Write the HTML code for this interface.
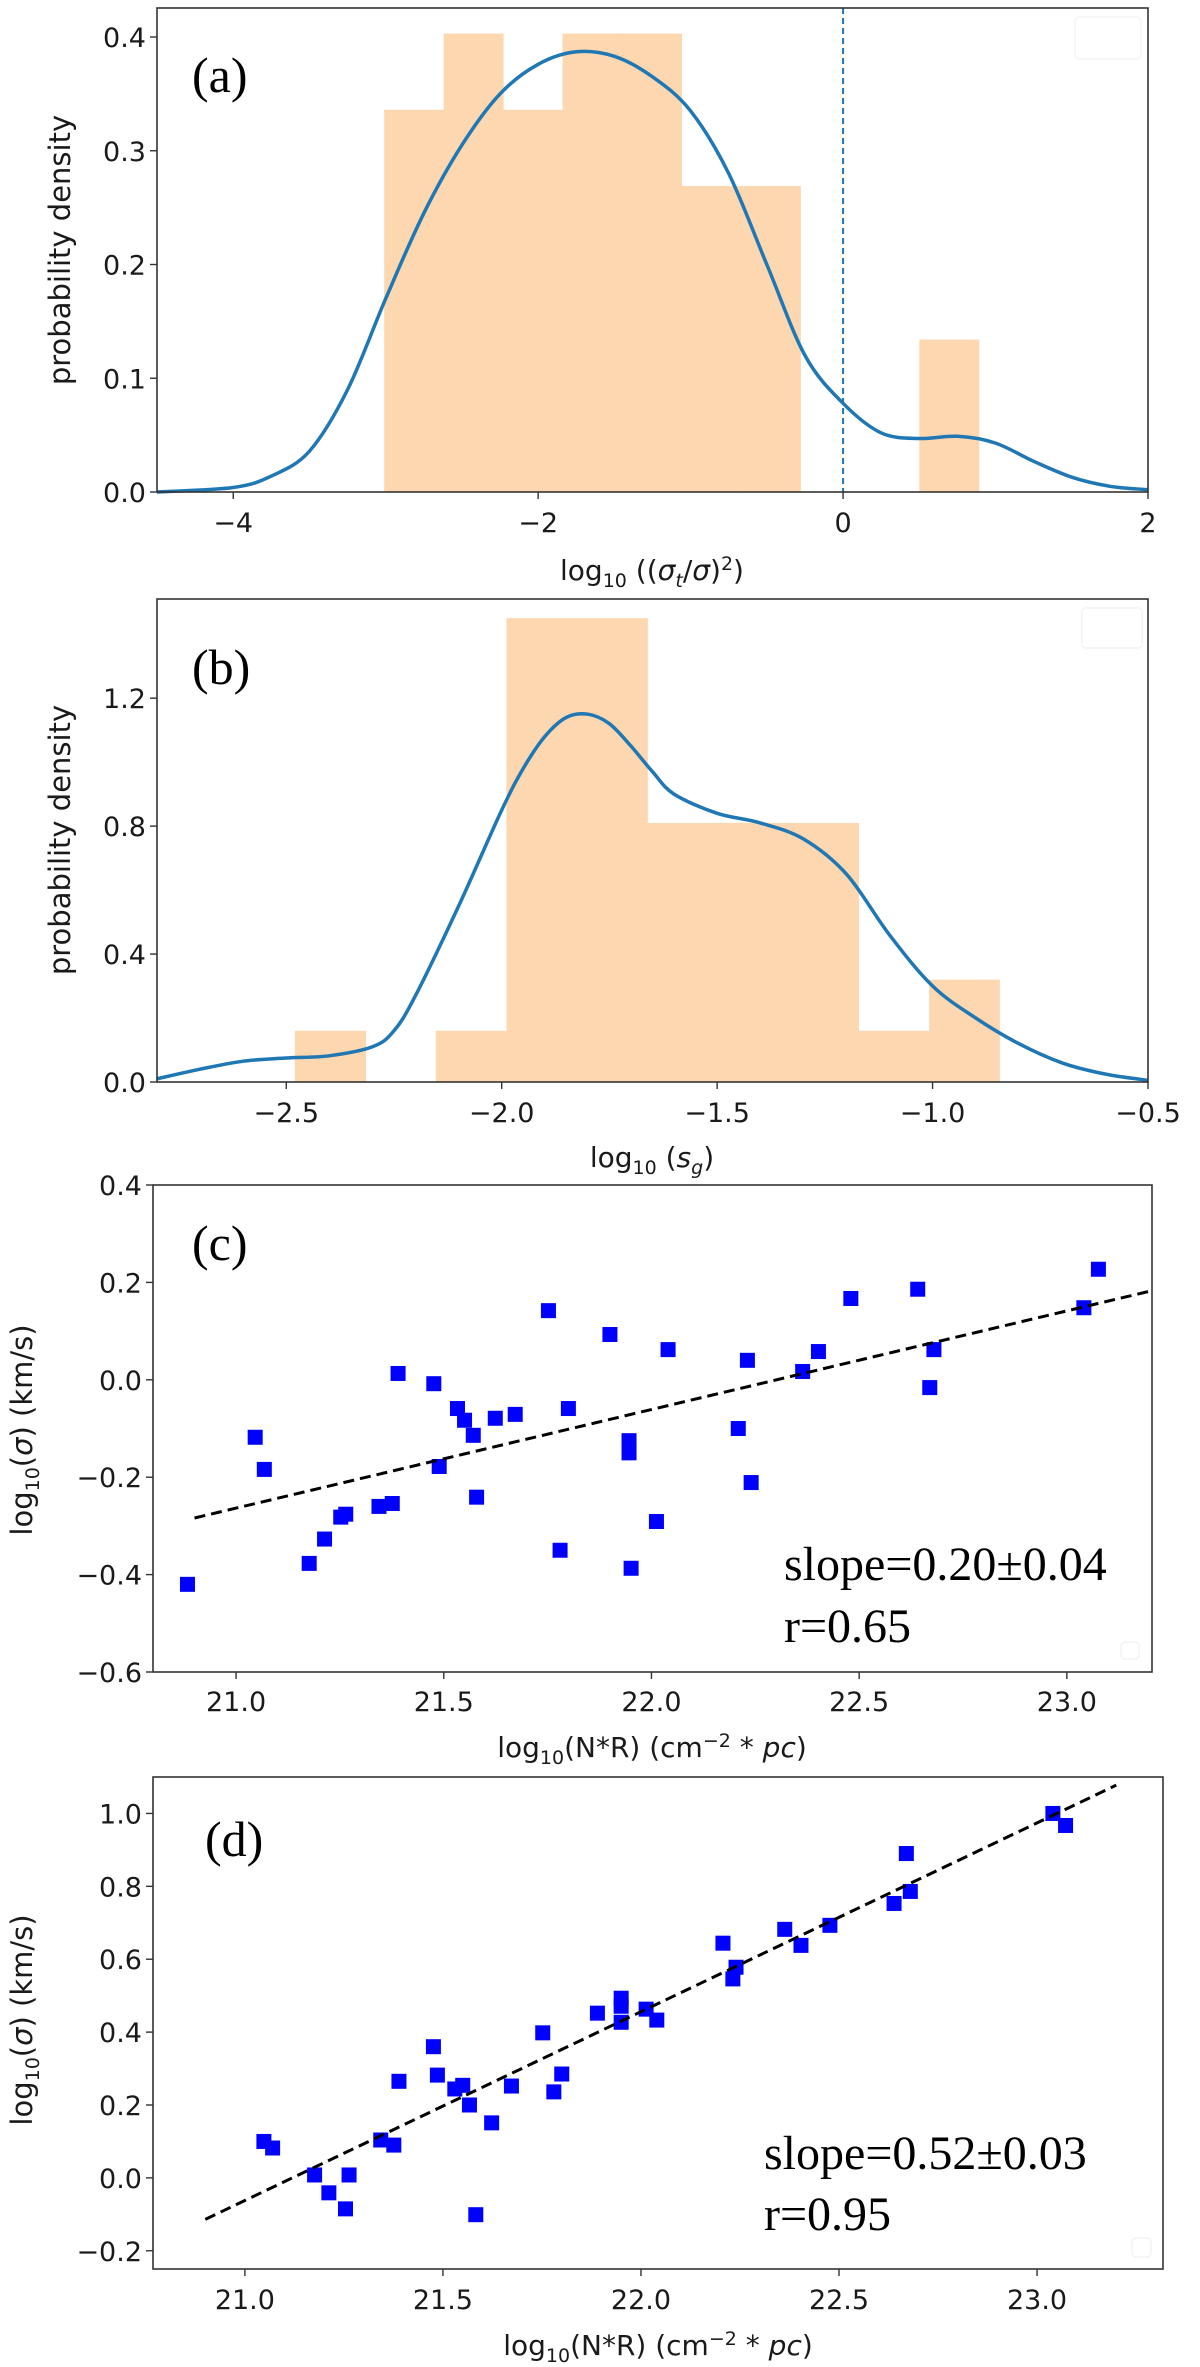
<!DOCTYPE html>
<html><head><meta charset="utf-8"><style>
html,body{margin:0;padding:0;background:#fff;}
svg{display:block;}
text{font-family:"DejaVu Sans","Liberation Sans",sans-serif;fill:#1a1a1a;}
.serif{font-family:"Liberation Serif","DejaVu Serif",serif;fill:#000;}
</style></head><body>
<svg id="fig" xmlns="http://www.w3.org/2000/svg" width="1200" height="2367" viewBox="0 0 1200 2367"></svg>
<script>
// ---- Panel (a) data ----
const aBinEdges = [-3.01,-2.62,-2.23,-1.84,-1.45,-1.06,-0.67,-0.28,0.11,0.50,0.89];
const aBinHeights = [0.336,0.403,0.336,0.403,0.403,0.269,0.269,0,0,0.134];
const aKdeX = [-4.5,-4,-3.75,-3.5,-3.25,-3,-2.75,-2.5,-2.25,-2,-1.75,-1.5,-1.25,-1,-0.75,-0.5,-0.25,0,0.25,0.5,0.75,1,1.25,1.5,1.75,2];
const aKdeY = [0,0.004,0.014,0.036,0.09,0.17,0.245,0.305,0.35,0.376,0.387,0.383,0.365,0.335,0.28,0.2,0.12,0.078,0.052,0.047,0.049,0.043,0.027,0.013,0.005,0.002];
const aXTicks = [-4,-2,0,2];
const aXTickLabels = ["\u22124","\u22122","0","2"];
const aYTicks = [0,0.1,0.2,0.3,0.4];
const aYTickLabels = ["0.0","0.1","0.2","0.3","0.4"];
// ---- Panel (b) data ----
const bBinEdges = [-2.48,-2.316,-2.153,-1.989,-1.826,-1.662,-1.499,-1.335,-1.172,-1.008,-0.845];
const bBinHeights = [0.16,0,0.16,1.45,1.45,0.81,0.81,0.81,0.16,0.32];
const bKdeX = [-2.8,-2.7,-2.6,-2.5,-2.4,-2.3,-2.25,-2.2,-2.1,-2.0,-1.95,-1.9,-1.85,-1.8,-1.75,-1.7,-1.65,-1.6,-1.5,-1.4,-1.3,-1.2,-1.1,-1.0,-0.9,-0.8,-0.7,-0.6,-0.5];
const bKdeY = [0.01,0.04,0.065,0.075,0.082,0.11,0.16,0.27,0.55,0.85,0.98,1.08,1.14,1.15,1.12,1.05,0.97,0.9,0.84,0.81,0.76,0.65,0.46,0.3,0.2,0.12,0.06,0.025,0.005];
const bXTicks = [-2.5,-2.0,-1.5,-1.0,-0.5];
const bXTickLabels = ["\u22122.5","\u22122.0","\u22121.5","\u22121.0","\u22120.5"];
const bYTicks = [0,0.4,0.8,1.2];
const bYTickLabels = ["0.0","0.4","0.8","1.2"];
// ---- Panel (c) data ----
const cX = [20.883,21.046,21.068,21.176,21.213,21.252,21.264,21.344,21.376,21.39,21.476,21.489,21.533,21.55,21.571,21.579,21.624,21.672,21.752,21.78,21.80,21.90,21.946,21.946,21.951,22.012,22.04,22.209,22.231,22.24,22.364,22.402,22.48,22.641,22.67,22.68,23.041,23.076];
const cY = [-0.42,-0.118,-0.184,-0.377,-0.327,-0.282,-0.276,-0.26,-0.254,0.013,-0.008,-0.178,-0.059,-0.083,-0.114,-0.241,-0.079,-0.071,0.142,-0.35,-0.059,0.093,-0.125,-0.15,-0.387,-0.291,0.062,-0.1,0.04,-0.211,0.017,0.058,0.167,0.186,-0.016,0.062,0.148,0.227];
const cFit = [0.2025,-4.516];      // slope, intercept
const cFitRange = [20.9,23.2];
const cXTicks = [21.0,21.5,22.0,22.5,23.0];
const cXTickLabels = ["21.0","21.5","22.0","22.5","23.0"];
const cYTicks = [-0.6,-0.4,-0.2,0.0,0.2,0.4];
const cYTickLabels = ["\u22120.6","\u22120.4","\u22120.2","0.0","0.2","0.4"];
// ---- Panel (d) data ----
const dX = [21.048,21.07,21.176,21.212,21.254,21.263,21.343,21.376,21.389,21.476,21.486,21.53,21.55,21.567,21.583,21.623,21.673,21.752,21.78,21.80,21.89,21.95,21.95,21.95,22.013,22.04,22.207,22.24,22.232,22.363,22.404,22.477,22.639,22.68,22.67,23.04,23.072];
const dY = [0.10,0.082,0.008,-0.041,-0.085,0.008,0.104,0.09,0.265,0.36,0.282,0.244,0.254,0.2,-0.101,0.151,0.252,0.398,0.236,0.285,0.452,0.493,0.471,0.427,0.463,0.433,0.644,0.578,0.546,0.682,0.638,0.693,0.753,0.786,0.89,1.0,0.967];
const dFit = [0.518,-10.94];
const dFitRange = [20.9,23.2];
const dXTicks = [21.0,21.5,22.0,22.5,23.0];
const dXTickLabels = ["21.0","21.5","22.0","22.5","23.0"];
const dYTicks = [-0.2,0.0,0.2,0.4,0.6,0.8,1.0];
const dYTickLabels = ["\u22120.2","0.0","0.2","0.4","0.6","0.8","1.0"];

const NS = "http://www.w3.org/2000/svg";
const svg = document.getElementById('fig');
function el(tag, attrs, parent){
  const e = document.createElementNS(NS, tag);
  for (const k in attrs) e.setAttribute(k, attrs[k]);
  (parent||svg).appendChild(e);
  return e;
}
function makeScale(d0,d1,p0,p1){ return v => p0 + (v-d0)/(d1-d0)*(p1-p0); }
const TF = 27;
function axesFrame(g, L, T, R, B, sx, sy, xt, xtl, yt, ytl, xTickY){
  const frame = el('rect',{x:L,y:T,width:R-L,height:B-T,fill:'none',stroke:'#333',"stroke-width":1.6},g);
  
  
  xt.forEach((v,i)=>{
    const x = sx(v);
    const t = el('line',{x1:x,y1:B,x2:x,y2:B+7,stroke:'#333',"stroke-width":1.4},g);
    
    
    const lb = el('text',{x:x,y:xTickY,"font-size":TF,"text-anchor":"middle"},g);
    lb.textContent = xtl[i];
    
    
  });
  yt.forEach((v,i)=>{
    const y = sy(v);
    const t = el('line',{x1:L-7,y1:y,x2:L,y2:y,stroke:'#333',"stroke-width":1.4},g);
    
    
    const lb = el('text',{x:L-11,y:y+10,"font-size":TF,"text-anchor":"end"},g);
    lb.textContent = ytl[i];
    
    
  });
}
function histPanel(name, L,T,R,B, xd, yd, edges, heights, kx, ky){
  const g = el('g',{});
  
  
  const sx = makeScale(xd[0],xd[1],L,R), sy = makeScale(yd[0],yd[1],B,T);
  heights.forEach((h,i)=>{
    if (h<=0) return;
    const r = el('rect',{x:sx(edges[i]),y:sy(h),width:sx(edges[i+1])-sx(edges[i])+0.5,height:sy(0)-sy(h),fill:'#fdd7b0'},g);
    
    
  });
  const pts = kx.map((x,i)=>[sx(x),sy(ky[i])]);
  let d = 'M'+pts[0][0]+','+pts[0][1];
  for (let i=0;i<pts.length-1;i++){
    const p0=pts[Math.max(0,i-1)],p1=pts[i],p2=pts[i+1],p3=pts[Math.min(pts.length-1,i+2)];
    d += ' C'+(p1[0]+(p2[0]-p0[0])/6).toFixed(1)+','+(p1[1]+(p2[1]-p0[1])/6).toFixed(1)+' '+
         (p2[0]-(p3[0]-p1[0])/6).toFixed(1)+','+(p2[1]-(p3[1]-p1[1])/6).toFixed(1)+' '+p2[0].toFixed(1)+','+p2[1].toFixed(1);
  }
  const path = el('path',{d:d,fill:'none',stroke:'#1f77b4',"stroke-width":3.5},g);
  
  
  return {g,sx,sy};
}
function scatterPanel(name, L,T,R,B, xd, yd, xs, ys, fit, fitRange){
  const g = el('g',{});
  
  
  const sx = makeScale(xd[0],xd[1],L,R), sy = makeScale(yd[0],yd[1],B,T);
  xs.forEach((x,i)=>{
    const r = el('rect',{x:sx(x)-7.5,y:sy(ys[i])-7.5,width:15,height:15,fill:'#0000ff'},g);
    
    
  });
  const ln = el('line',{x1:sx(fitRange[0]),y1:sy(fit[0]*fitRange[0]+fit[1]),x2:sx(fitRange[1]),y2:sy(fit[0]*fitRange[1]+fit[1]),stroke:'#000',"stroke-width":3,"stroke-dasharray":"11,6"},g);
  
  
  return {g,sx,sy};
}
function txt(g, name, x, y, size, cls, anchor, html, rot){
  const t = el('text',{x:x,y:y,"font-size":size,"text-anchor":anchor||'start'},g);
  if (cls) t.setAttribute('class',cls);
  if (rot) t.setAttribute('transform',rot);
  t.innerHTML = html;
  
  
  return t;
}
function legendBox(g,x,y,w,h,name){
  const r = el('rect',{x:x,y:y,width:w,height:h,rx:4,fill:'none',stroke:'#f0f0f0',"stroke-width":1.2},g);
  
  
}

// Panel a
const A = histPanel('panel-a',157,8,1148,492,[-4.5,2],[0,0.4255],aBinEdges,aBinHeights,aKdeX,aKdeY);
const vz = el('line',{x1:A.sx(0),y1:8,x2:A.sx(0),y2:492,stroke:'#1f77b4',"stroke-width":2,"stroke-dasharray":"6,4"},A.g);


legendBox(A.g,1075,17,66,42,'legend-box');
axesFrame(A.g,157,8,1148,492,A.sx,A.sy,aXTicks,aXTickLabels,aYTicks,aYTickLabels,532);
txt(A.g,'panel-label-a',192,92,50,'serif','start','(a)');
txt(A.g,'x-axis-title',652,580,28,null,'middle','log<tspan font-size="19" dy="7">10</tspan><tspan dy="-7"> ((</tspan><tspan font-style="italic">σ</tspan><tspan font-style="italic" font-size="19" dy="7">t</tspan><tspan dy="-7">/</tspan><tspan font-style="italic">σ</tspan>)<tspan font-size="19" dy="-10">2</tspan><tspan dy="10">)</tspan>');
txt(A.g,'y-axis-title',0,0,29,null,'middle','probability density','translate(70,250) rotate(-90)');

// Panel b
const Bp = histPanel('panel-b',157,599,1148,1082,[-2.8,-0.5],[0,1.51],bBinEdges,bBinHeights,bKdeX,bKdeY);
legendBox(Bp.g,1082,608,60,40,'legend-box');
axesFrame(Bp.g,157,599,1148,1082,Bp.sx,Bp.sy,bXTicks,bXTickLabels,bYTicks,bYTickLabels,1122);
txt(Bp.g,'panel-label-b',192,684,50,'serif','start','(b)');
txt(Bp.g,'x-axis-title',652,1167,28,null,'middle','log<tspan font-size="19" dy="7">10</tspan><tspan dy="-7"> (</tspan><tspan font-style="italic">s</tspan><tspan font-style="italic" font-size="19" dy="7">g</tspan><tspan dy="-7">)</tspan>');
txt(Bp.g,'y-axis-title',0,0,29,null,'middle','probability density','translate(70,840) rotate(-90)');

// Panel c
const C = scatterPanel('panel-c',153,1185,1152,1672,[20.8,23.205],[-0.6,0.4],cX,cY,cFit,cFitRange);
legendBox(C.g,1121,1642,18,17,'legend-box');
axesFrame(C.g,153,1185,1152,1672,C.sx,C.sy,cXTicks,cXTickLabels,cYTicks,cYTickLabels,1711);
txt(C.g,'panel-label-c',192,1260,50,'serif','start','(c)');
txt(C.g,'slope-annotation',784,1580,48,'serif','start','slope=0.20±0.04');
txt(C.g,'r-annotation',784,1642,48,'serif','start','r=0.65');
txt(C.g,'x-axis-title',652,1757,28,null,'middle','log<tspan font-size="19" dy="7">10</tspan><tspan dy="-7">(N*R) (cm</tspan><tspan font-size="19" dy="-10">\u22122</tspan><tspan dy="10"> * </tspan><tspan font-style="italic">pc</tspan>)');
txt(C.g,'y-axis-title',0,0,29,null,'middle','log<tspan font-size="19" dy="7">10</tspan><tspan dy="-7">(</tspan><tspan font-style="italic">σ</tspan>) (km/s)','translate(32,1430) rotate(-90)');

// Panel d
const D = scatterPanel('panel-d',153,1777,1163,2269,[20.768,23.318],[-0.25,1.1],dX,dY,dFit,dFitRange);
legendBox(D.g,1132,2238,19,19,'legend-box');
axesFrame(D.g,153,1777,1163,2269,D.sx,D.sy,dXTicks,dXTickLabels,dYTicks,dYTickLabels,2309);
txt(D.g,'panel-label-d',205,1856,50,'serif','start','(d)');
txt(D.g,'slope-annotation',764,2169,48,'serif','start','slope=0.52±0.03');
txt(D.g,'r-annotation',764,2230,48,'serif','start','r=0.95');
txt(D.g,'x-axis-title',658,2355,28,null,'middle','log<tspan font-size="19" dy="7">10</tspan><tspan dy="-7">(N*R) (cm</tspan><tspan font-size="19" dy="-10">\u22122</tspan><tspan dy="10"> * </tspan><tspan font-style="italic">pc</tspan>)');
txt(D.g,'y-axis-title',0,0,29,null,'middle','log<tspan font-size="19" dy="7">10</tspan><tspan dy="-7">(</tspan><tspan font-style="italic">σ</tspan>) (km/s)','translate(32,2020) rotate(-90)');
</script>
</body></html>
